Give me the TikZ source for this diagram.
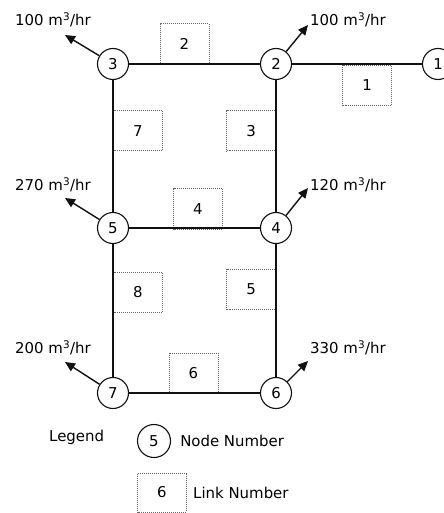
\documentclass[tikz,border=0pt]{standalone}
\usepackage{fontspec}
\setmainfont{DejaVu Sans}
\usetikzlibrary{arrows.meta,positioning}
\definecolor{pipe}{HTML}{111111}
\definecolor{linkline}{HTML}{666666}

\begin{document}
\begin{tikzpicture}[
  x=1bp, y=-1bp,
  junction/.style={draw=pipe, circle, line width=1.1bp, fill=white,
                   minimum size=31bp, inner sep=0pt, font=\fontsize{15}{17}\selectfont},
  linkbox/.style={draw=linkline, densely dotted, line width=1bp, minimum width=49bp,
                  minimum height=40bp, inner sep=0pt, font=\fontsize{15}{17}\selectfont},
  pipeline/.style={draw=pipe, line width=1.2bp},
  demand/.style={draw=pipe, line width=1.4bp, -{Triangle[length=10bp,width=9bp]}},
  flow/.style={font=\fontsize{15}{17}\selectfont, inner sep=0pt}
]
  \useasboundingbox (0,0) rectangle (444,513);

  % link boxes
  \node[linkbox] (l1) at (367,85.5) {1};
  \node[linkbox] (l2) at (184.5,44) {2};
  \node[linkbox] (l3) at (251,131) {3};
  \node[linkbox] (l4) at (198,209) {4};
  \node[linkbox] (l5) at (251,289) {5};
  \node[linkbox] (l6) at (193.5,373) {6};
  \node[linkbox] (l7) at (138,131) {7};
  \node[linkbox] (l8) at (138,292.5) {8};

  % junctions
  \node[junction] (n1) at (438,64) {1};
  \node[junction] (n2) at (276,64) {2};
  \node[junction] (n3) at (113,64) {3};
  \node[junction] (n4) at (276,228) {4};
  \node[junction] (n5) at (113,228) {5};
  \node[junction] (n6) at (276,393) {6};
  \node[junction] (n7) at (113,393) {7};

  \draw[pipeline] (n2) -- (n1);
  \draw[pipeline] (n3) -- (n2);
  \draw[pipeline] (n5) -- (n4);
  \draw[pipeline] (n7) -- (n6);
  \draw[pipeline] (n3) -- (n5);
  \draw[pipeline] (n5) -- (n7);
  \draw[pipeline] (n2) -- (n4);
  \draw[pipeline] (n4) -- (n6);

  % demands
  \coordinate (d3) at (65,35);
  \coordinate (d2) at (308,25);
  \coordinate (d5) at (65,198);
  \coordinate (d4) at (308,188);
  \coordinate (d7) at (65,362);
  \coordinate (d6) at (308,361);
  \draw[demand] (n3) -- (d3);
  \draw[demand] (n2) -- (d2);
  \draw[demand] (n5) -- (d5);
  \draw[demand] (n4) -- (d4);
  \draw[demand] (n7) -- (d7);
  \draw[demand] (n6) -- (d6);

  \node[flow, anchor=west] (q3) at (15,20) {100 m\textsuperscript{3}/hr};
  \node[flow, anchor=west] (q2) at (310,20) {100 m\textsuperscript{3}/hr};
  \node[flow, anchor=west] (q5) at (15,185) {270 m\textsuperscript{3}/hr};
  \node[flow, anchor=west] (q4) at (310,185) {120 m\textsuperscript{3}/hr};
  \node[flow, anchor=west] (q7) at (15,348) {200 m\textsuperscript{3}/hr};
  \node[flow, anchor=west] (q6) at (310,348) {330 m\textsuperscript{3}/hr};

  % legend
  \node[flow, anchor=west] (legend) at (49,437) {Legend};
  \node[junction, minimum size=33bp] (legnode) at (154,441) {5};
  \node[flow, right=9bp of legnode] (legnodetext) {Node Number};
  \node[linkbox, minimum height=39bp] (leglink) at (162,492.5) {6};
  \node[flow, right=6bp of leglink] (leglinktext) {Link Number};
\end{tikzpicture}
\end{document}
